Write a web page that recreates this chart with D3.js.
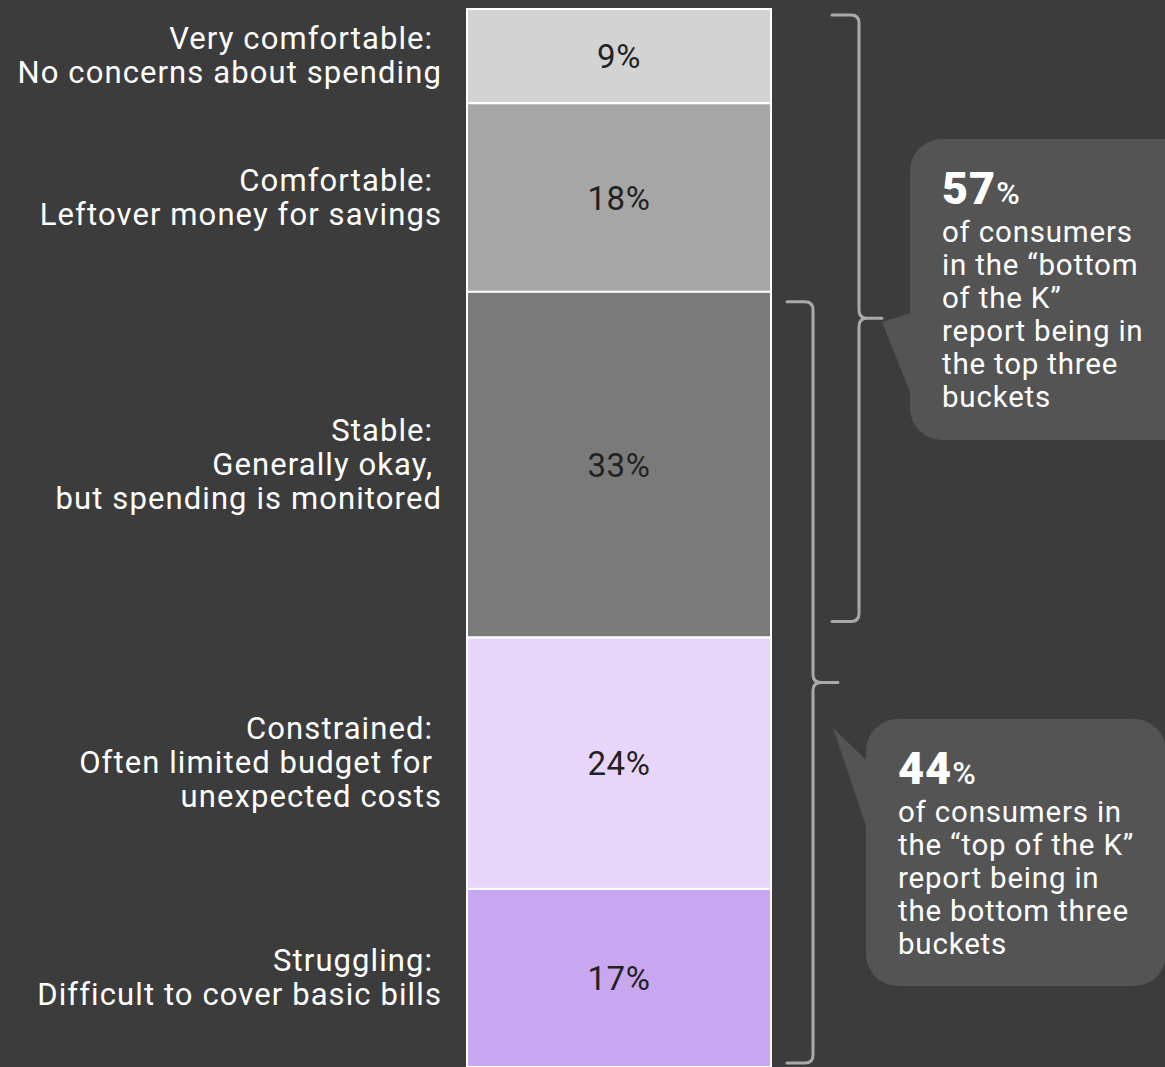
<!DOCTYPE html>
<html>
<head>
<meta charset="utf-8">
<script src="https://cdn.jsdelivr.net/npm/d3@7"></script>
<style>
  html, body { margin: 0; padding: 0; background: #3c3c3c; }
  svg { display: block; }
  text { font-family: Roboto, "Open Sans", sans-serif; }
</style>
</head>
<body>
<svg id="chart" width="1165" height="1067"></svg>
<script>
// Financial comfort buckets, top to bottom of the stacked bar
const categories = ["Very comfortable", "Comfortable", "Stable", "Constrained", "Struggling"];
const categoryLines = [
  ["Very comfortable: ", "No concerns about spending"],
  ["Comfortable: ", "Leftover money for savings"],
  ["Stable: ", "Generally okay, ", "but spending is monitored"],
  ["Constrained: ", "Often limited budget for ", "unexpected costs"],
  ["Struggling: ", "Difficult to cover basic bills"]
];
const shares = [9, 18, 33, 24, 17];
const segmentColors = ["#d3d3d3", "#a6a6a6", "#7a7a7a", "#e8d5fa", "#c8a6f0"];

// Groupings marked by braces, with their callout figures
const groupSpans = [[0, 2], [2, 4]];
const groupFigures = [57, 44];
const groupLines = [
  ["of consumers", "in the \u201cbottom", "of the K\u201d", "report being in", "the top three", "buckets"],
  ["of consumers in", "the \u201ctop of the K\u201d", "report being in", "the bottom three", "buckets"]
];

const svg = d3.select("#chart");
const W = 1165, H = 1067;

svg.append("rect").attr("width", W).attr("height", H).attr("fill", "#3c3c3c");

// stacked layout
const stacked = [];
let acc = 0;
shares.forEach((v, i) => { stacked.push({ i, v, y0: acc, y1: acc + v }); acc += v; });

const y = d3.scaleLinear().domain([0, acc]).range([9, 1067]);
const barX = 467, barW = 304;

// bar segments
svg.append("g").selectAll("rect")
  .data(stacked)
  .join("rect")
  .attr("x", barX)
  .attr("y", d => y(d.y0))
  .attr("width", barW)
  .attr("height", d => y(d.y1) - y(d.y0))
  .attr("fill", d => segmentColors[d.i])
  .attr("stroke", "#ffffff")
  .attr("stroke-width", 2);

// value labels inside the bar
svg.append("g").selectAll("text")
  .data(stacked)
  .join("text")
  .attr("x", barX + barW / 2)
  .attr("y", d => (y(d.y0) + y(d.y1)) / 2 + 12)
  .attr("text-anchor", "middle")
  .attr("fill", "#222222")
  .attr("font-size", 33)
  .attr("letter-spacing", "0.6px")
  .text(d => d.v + "%");

// category labels on the left
const lineH = 34;
const catG = svg.append("g");
stacked.forEach(d => {
  const lines = categoryLines[d.i];
  const c = (y(d.y0) + y(d.y1)) / 2;
  const first = c - (lines.length - 1) * lineH / 2 + 10;
  const t = catG.append("text")
    .attr("text-anchor", "end")
    .attr("fill", "#ffffff")
    .attr("font-size", 31)
    .attr("letter-spacing", "1.1px")
    .style("white-space", "pre");
  lines.forEach((ln, k) => {
    t.append("tspan").attr("x", 442).attr("y", first + k * lineH).text(ln);
  });
});

// curly brace path: arms at x0, spine at x1, tip reaching xt
function brace(x0, x1, xt, y0, y1) {
  const r = 8, ym = (y0 + y1) / 2;
  return `M${x0},${y0} L${x1 - r},${y0} Q${x1},${y0} ${x1},${y0 + r} ` +
         `L${x1},${ym - r} Q${x1},${ym} ${x1 + r},${ym} L${xt},${ym} ` +
         `M${x1 + r},${ym} Q${x1},${ym} ${x1},${ym + r} ` +
         `L${x1},${y1 - r} Q${x1},${y1} ${x1 - r},${y1} L${x0},${y1}`;
}

const braceGeom = [
  { x0: 832, x1: 859, xt: 882, padTop: 6, padBot: 16 },
  { x0: 787, x1: 813, xt: 838, padTop: 10, padBot: 4 }
];
const braceG = svg.append("g");
groupSpans.forEach((span, g) => {
  const b = braceGeom[g];
  const top = y(stacked[span[0]].y0) + b.padTop;
  const bot = y(stacked[span[1]].y1) - b.padBot;
  braceG.append("path")
    .attr("d", brace(b.x0, b.x1, b.xt, top, bot))
    .attr("fill", "none")
    .attr("stroke", "#a9a9a9")
    .attr("stroke-width", 3)
    .attr("stroke-linecap", "round");
});

// callout boxes
const boxGeom = [
  { x: 910, y: 139, h: 301, ptr: [[882, 322], [914, 312], [910, 392]] },
  { x: 866, y: 719, h: 267, ptr: [[833, 728], [868, 762], [868, 832]] }
];
const calloutG = svg.append("g");
boxGeom.forEach((b, g) => {
  calloutG.append("path")
    .attr("d", d3.line()(b.ptr) + "Z")
    .attr("fill", "#545454");
  calloutG.append("rect")
    .attr("x", b.x).attr("y", b.y)
    .attr("width", 300).attr("height", b.h)
    .attr("rx", 32)
    .attr("fill", "#545454");

  const tx = b.x + 32, fy = b.y + 65;
  const head = calloutG.append("text").attr("x", tx).attr("y", fy).attr("fill", "#ffffff");
  head.append("tspan").attr("font-size", 45).attr("font-weight", 900).attr("letter-spacing", "1px").text(groupFigures[g]);
  head.append("tspan").attr("font-size", 32).attr("font-weight", 500).attr("dx", 0).text("%");

  const body = calloutG.append("text").attr("fill", "#ffffff")
    .attr("font-size", 29.5).attr("letter-spacing", "0.8px");
  groupLines[g].forEach((ln, k) => {
    body.append("tspan").attr("x", tx).attr("y", fy + 38 + k * 33).text(ln);
  });
});
</script>
</body>
</html>
